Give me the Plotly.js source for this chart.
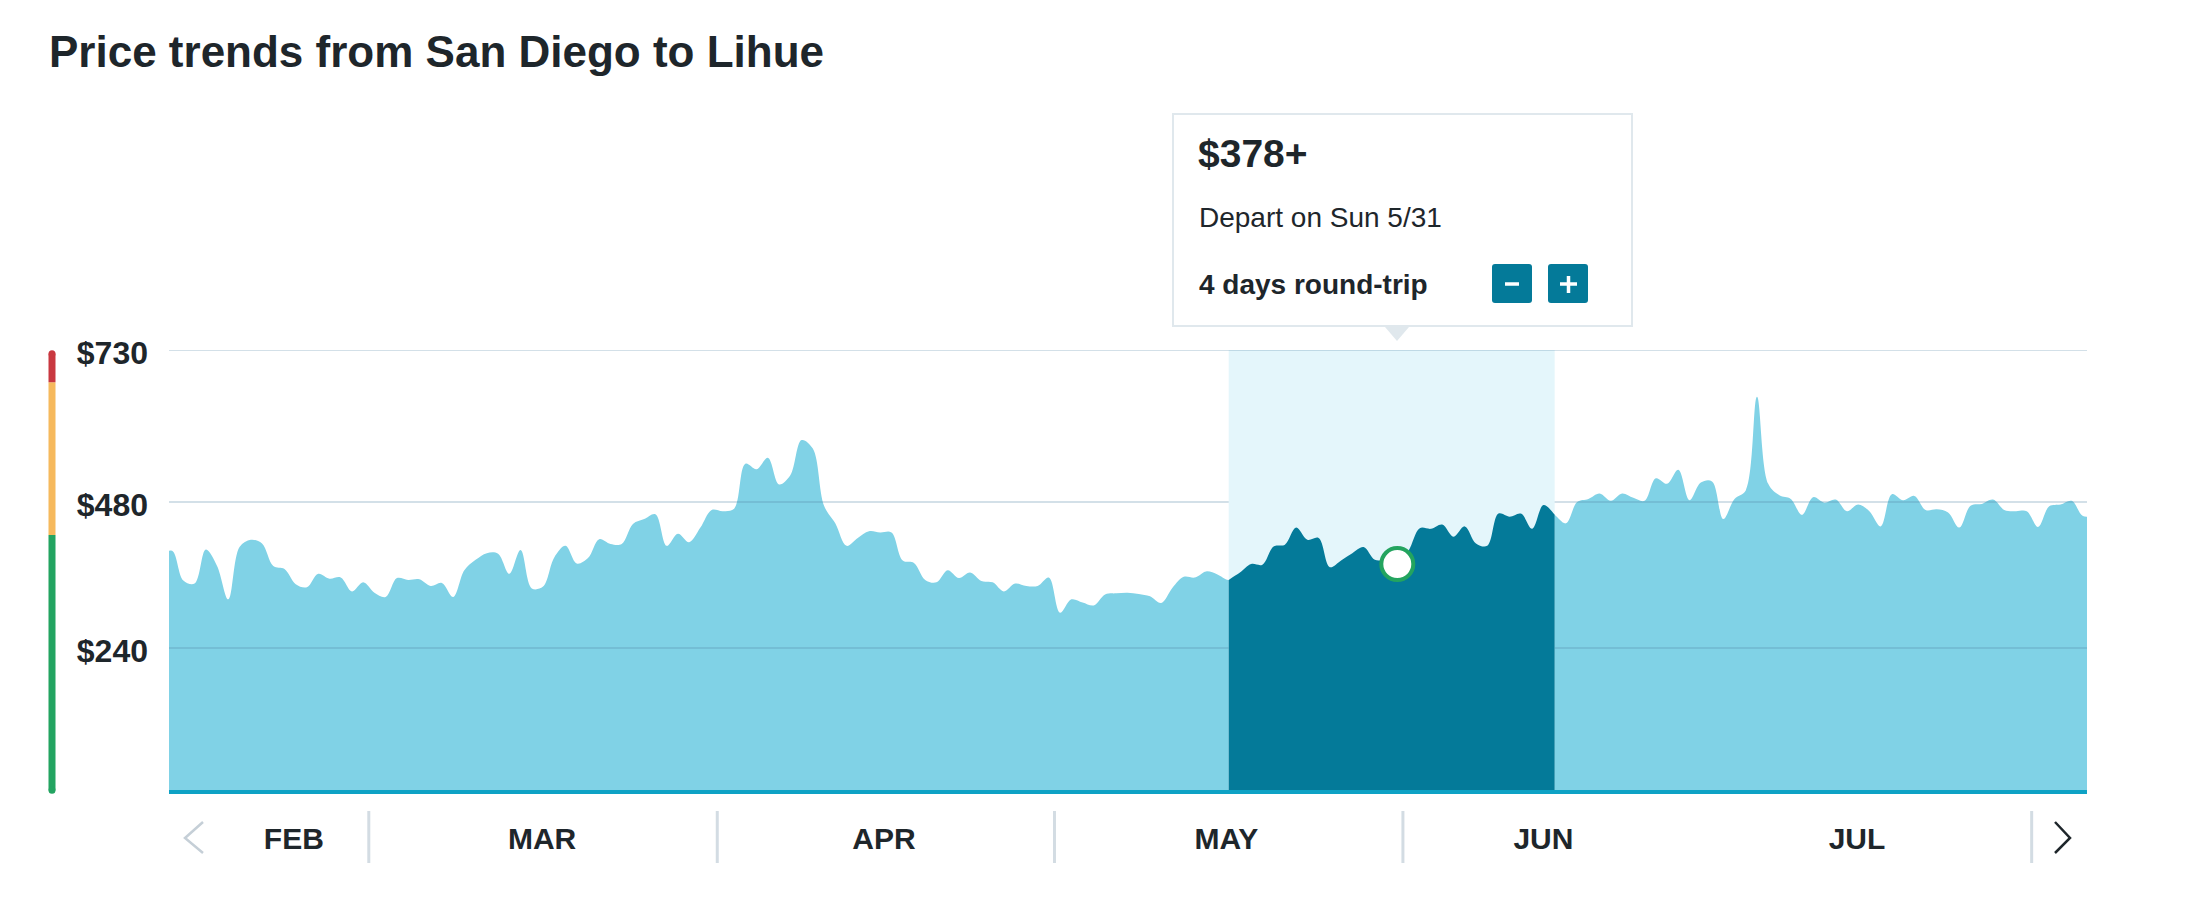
<!DOCTYPE html>
<html>
<head>
<meta charset="utf-8">
<script src="https://cdn.plot.ly/plotly-3.0.1.min.js"></script>
<style>
  html, body { margin: 0; padding: 0; background: #ffffff; }
  #chart { width: 2208px; height: 900px; }
</style>
</head>
<body>
<div id="chart"></div>
<script>
// ---------------- DATA ----------------
const startDate = '2020-02-11';
const pricesFeb = [392, 400, 351, 346, 402, 375, 320, 406, 418, 412, 375, 370, 345, 340, 362, 354, 356, 333, 348];
const pricesMar = [331, 324, 355, 352, 353, 342, 347, 324, 368, 385, 396, 395, 362, 401, 338, 341, 389, 408, 379, 388, 419, 411, 411, 444, 452, 460, 408, 428, 414, 438, 467];
const pricesApr = [465, 469, 543, 534, 553, 509, 524, 582, 568, 474, 445, 408, 421, 432, 430, 430, 384, 380, 352, 348, 368, 355, 364, 350, 348, 333, 346, 342, 342, 356];
const pricesMay = [298, 320, 315, 310, 328, 330, 331, 329, 325, 314, 339, 357, 356, 366, 361, 352, 364, 378, 377, 407, 410, 438, 418, 421, 373, 384, 396, 406, 385, 384, 378];
const pricesJun = [400, 437, 436, 443, 423, 440, 412, 408, 461, 456, 461, 436, 475, 459, 445, 480, 485, 494, 482, 494, 487, 482, 519, 510, 533, 483, 512, 514, 452, 485];
const pricesJul = [499, 653, 510, 491, 485, 459, 488, 479, 484, 465, 476, 465, 440, 493, 483, 490, 467, 468, 463, 438, 474, 477, 484, 467, 465, 465, 439, 473, 476, 482, 457];
const pricesAug = [458];

const yTickVals = [240, 480, 730];
const yTickText = ['$240', '$480', '$730'];

const monthLabels = ['FEB', 'MAR', 'APR', 'MAY', 'JUN', 'JUL'];
const monthLabelDates = ['2020-02-23 08:00', '2020-03-16 10:00', '2020-04-15 20:00', '2020-05-16 07:00', '2020-06-13 12:00', '2020-07-11 09:30'];
const monthSeparators = ['2020-03-01', '2020-04-01', '2020-05-01', '2020-06-01', '2020-07-26 22:30'];

const selectedDate = '2020-05-31';
const selectedPrice = 378;
const windowStart = '2020-05-16';
const windowEnd = '2020-06-14';
const tripDays = 4;

const xRange = ['2020-02-12 05:23', '2020-07-31 20:38'];

const bandEdges = [0, 426, 677, 730];
const bandColors = ['#23a461', '#f6b95d', '#c93840'];

// ---------------- BUILD ----------------
function addDays(iso, n) {
  const d = new Date(iso + 'T12:00:00Z');
  d.setUTCDate(d.getUTCDate() + n);
  return d.toISOString().slice(0, 10) + ' 12:00';
}
const prices = [].concat(pricesFeb, pricesMar, pricesApr, pricesMay, pricesJun, pricesJul, pricesAug);
const dates = prices.map((_, i) => addDays(startDate, i));

const selDates = [], selPrices = [];
dates.forEach((d, i) => {
  const day = d.slice(0, 10);
  if (day >= windowStart && day <= windowEnd) { selDates.push(d); selPrices.push(prices[i]); }
});
const selX = selectedDate + ' 12:00';
const yMax = Math.max(...yTickVals);

const FONT = 'Liberation Sans, Arial, Helvetica, sans-serif';
const DARK = '#1e262b';
const LIGHT_FILL = '#80d2e6';
const DARK_FILL = '#047a99';
const GRID = 'rgba(80,130,165,0.25)';

// plot box (px) for decorative paper-coordinate helpers
const L = 169, T = 350, W = 1918, H = 444;
const px = x => (x - L) / W;
const py = y => (T + H - y) / H;

const traces = [];
// light area
traces.push({
  x: dates, y: prices, type: 'scatter', mode: 'lines',
  line: { shape: 'spline', smoothing: 1, width: 0, color: LIGHT_FILL },
  fill: 'tozeroy', fillcolor: LIGHT_FILL, hoverinfo: 'skip'
});
// lower gridlines
const gx = [], gy = [];
yTickVals.filter(v => v < yMax).forEach(v => { gx.push(xRange[0], xRange[1], null); gy.push(v, v, null); });
traces.push({ x: gx, y: gy, type: 'scatter', mode: 'lines', line: { color: GRID, width: 2 }, hoverinfo: 'skip' });
// highlight band
traces.push({
  x: [selDates[0], selDates[selDates.length - 1], selDates[selDates.length - 1], selDates[0]],
  y: [0, 0, yMax, yMax], type: 'scatter', mode: 'lines', fill: 'toself',
  fillcolor: '#e4f6fb', line: { width: 0, color: '#e4f6fb' }, hoverinfo: 'skip'
});
// top gridline
traces.push({ x: [xRange[0], xRange[1]], y: [yMax, yMax], type: 'scatter', mode: 'lines', line: { color: GRID, width: 2 }, hoverinfo: 'skip' });
// dark selected area
traces.push({
  x: selDates, y: selPrices, type: 'scatter', mode: 'lines',
  line: { shape: 'spline', smoothing: 1, width: 0, color: DARK_FILL },
  fill: 'tozeroy', fillcolor: DARK_FILL, hoverinfo: 'skip'
});
// selected marker
traces.push({
  x: [selX], y: [selectedPrice], type: 'scatter', mode: 'markers',
  marker: { size: 32, color: '#ffffff', line: { color: '#23a45f', width: 4 } }, hoverinfo: 'skip'
});

function roundRect(x0, y0, x1, y1, r) {
  const rx = r / W, ry = r / H;
  const a = px(x0), b = px(x1), top = py(y0), bot = py(y1);
  return `M ${a + rx} ${top} L ${b - rx} ${top} Q ${b} ${top} ${b} ${top - ry} L ${b} ${bot + ry} Q ${b} ${bot} ${b - rx} ${bot} L ${a + rx} ${bot} Q ${a} ${bot} ${a} ${bot + ry} L ${a} ${top - ry} Q ${a} ${top} ${a + rx} ${top} Z`;
}

const shapes = [];
// baseline
shapes.push({ type: 'line', xref: 'paper', yref: 'paper', x0: 0, x1: 1, y0: py(792), y1: py(792), line: { color: '#0ea2c5', width: 4 }, layer: 'above' });
// month separators
monthSeparators.forEach(d => shapes.push({ type: 'line', xref: 'x', yref: 'paper', x0: d, x1: d, y0: py(811), y1: py(863), line: { color: '#d3dce3', width: 3 } }));
// chevrons
shapes.push({ type: 'path', xref: 'paper', yref: 'paper', path: `M ${px(203)} ${py(822)} L ${px(185)} ${py(838)} L ${px(203)} ${py(853)}`, line: { color: '#c5cfd7', width: 2.5 } });
shapes.push({ type: 'path', xref: 'paper', yref: 'paper', path: `M ${px(2055)} ${py(822)} L ${px(2070)} ${py(838)} L ${px(2055)} ${py(853)}`, line: { color: DARK, width: 2.5 } });
// left price-level bar
const barX = px(52);
for (let i = 0; i < bandColors.length; i++) {
  const lo = Math.max(bandEdges[i], 6), hi = Math.min(bandEdges[i + 1], 724);
  shapes.push({ type: 'line', xref: 'paper', yref: 'y', x0: barX, x1: barX, y0: lo, y1: hi, line: { color: bandColors[i], width: 7 } });
}
[[6, bandColors[0]], [724, bandColors[bandColors.length - 1]]].forEach(([v, c]) => shapes.push({
  type: 'circle', xref: 'paper', yref: 'y', xsizemode: 'pixel', ysizemode: 'pixel',
  xanchor: barX, yanchor: v, x0: -3.5, x1: 3.5, y0: -3.5, y1: 3.5, fillcolor: c, line: { width: 0 }
}));
// tooltip box
shapes.push({ type: 'rect', xref: 'paper', yref: 'paper', x0: px(1173), x1: px(1632), y0: py(114), y1: py(326), fillcolor: '#ffffff', line: { color: '#e0e8ed', width: 2 } });
shapes.push({ type: 'path', xref: 'paper', yref: 'paper', path: `M ${px(1385)} ${py(327)} L ${px(1409)} ${py(327)} L ${px(1397)} ${py(341)} Z`, fillcolor: '#e0e8ed', line: { width: 0 } });
// buttons
shapes.push({ type: 'path', xref: 'paper', yref: 'paper', path: roundRect(1492, 264, 1532, 303, 3), fillcolor: DARK_FILL, line: { width: 0 } });
shapes.push({ type: 'path', xref: 'paper', yref: 'paper', path: roundRect(1548, 264, 1588, 303, 3), fillcolor: DARK_FILL, line: { width: 0 } });
shapes.push({ type: 'line', xref: 'paper', yref: 'paper', x0: px(1505), x1: px(1519), y0: py(284), y1: py(284), line: { color: '#ffffff', width: 3.5 } });
shapes.push({ type: 'line', xref: 'paper', yref: 'paper', x0: px(1560), x1: px(1577), y0: py(284), y1: py(284), line: { color: '#ffffff', width: 3.5 } });
shapes.push({ type: 'line', xref: 'paper', yref: 'paper', x0: px(1568.5), x1: px(1568.5), y0: py(276), y1: py(293), line: { color: '#ffffff', width: 3.5 } });

const depart = new Date(selectedDate + 'T12:00:00Z');
const dayName = ['Sun', 'Mon', 'Tue', 'Wed', 'Thu', 'Fri', 'Sat'][depart.getUTCDay()];
const annotations = [
  { text: '<b>$' + selectedPrice + '+</b>', xref: 'paper', yref: 'paper', x: px(1197), y: py(153.5), xanchor: 'left', yanchor: 'middle', showarrow: false, borderpad: 0, font: { family: FONT, size: 39, color: DARK } },
  { text: 'Depart on ' + dayName + ' ' + (depart.getUTCMonth() + 1) + '/' + depart.getUTCDate(), xref: 'paper', yref: 'paper', x: px(1198), y: py(218), xanchor: 'left', yanchor: 'middle', showarrow: false, borderpad: 0, font: { family: FONT, size: 28, color: DARK } },
  { text: '<b>' + tripDays + ' days round-trip</b>', xref: 'paper', yref: 'paper', x: px(1198), y: py(284), xanchor: 'left', yanchor: 'middle', showarrow: false, borderpad: 0, font: { family: FONT, size: 28, color: DARK } }
];

const layout = {
  width: 2208, height: 900,
  margin: { l: L, r: 2208 - L - W, t: T, b: 900 - T - H, pad: 0 },
  paper_bgcolor: '#ffffff', plot_bgcolor: '#ffffff',
  showlegend: false,
  title: {
    text: '<b>Price trends from San Diego to Lihue</b>',
    xref: 'container', yref: 'container', x: 49 / 2208, xanchor: 'left', y: 1 - 52 / 900, yanchor: 'middle',
    font: { family: FONT, size: 44, color: DARK }
  },
  xaxis: {
    type: 'date', range: xRange, fixedrange: true,
    showgrid: false, zeroline: false, showline: false, ticks: '',
    tickmode: 'array', tickvals: monthLabelDates, ticktext: monthLabels.map(m => '<b>' + m + '</b>'),
    tickfont: { family: FONT, size: 30, color: DARK }, ticklabelstandoff: 24, automargin: false
  },
  yaxis: {
    range: [0, yMax], fixedrange: true,
    showgrid: false, zeroline: false, showline: false, ticks: '',
    tickmode: 'array', tickvals: yTickVals, ticktext: yTickText.map(t => '<b>' + t + '</b>'),
    tickfont: { family: FONT, size: 32, color: DARK }, ticklabelstandoff: 20, ticklabelshift: 3, automargin: false
  },
  shapes: shapes,
  annotations: annotations,
  hovermode: false
};

Plotly.newPlot('chart', traces, layout, { displayModeBar: false, staticPlot: true });
</script>
</body>
</html>
